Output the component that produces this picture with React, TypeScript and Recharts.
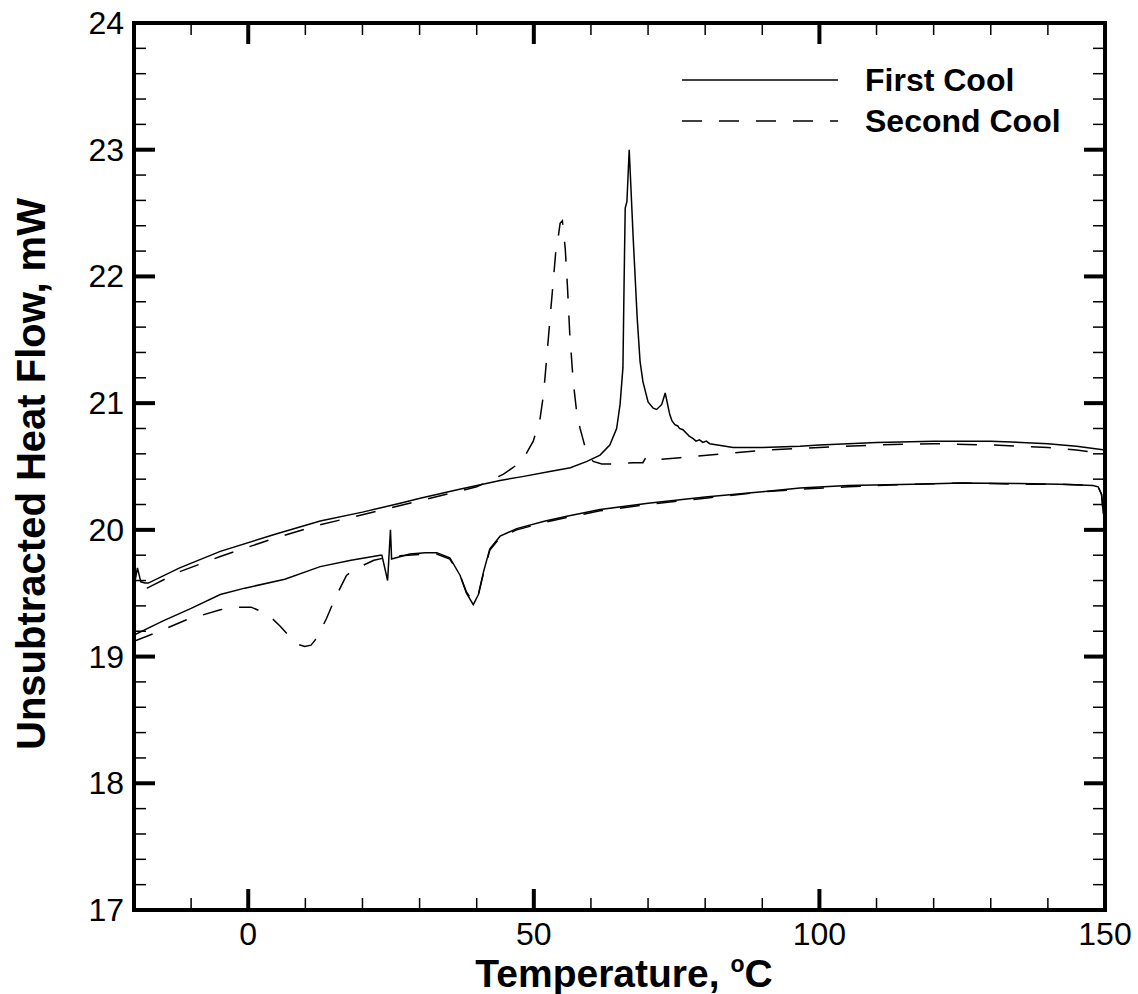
import React from "react";
import { LineChart, Line, XAxis, YAxis, Legend } from "recharts";

// tick positions (minor every 10 °C / 0.2 mW, labels on the majors)
const xTicks = [-20, -10, 0, 10, 20, 30, 40, 50, 60, 70, 80, 90, 100, 110, 120, 130, 140, 150];
const xMajor = [0, 50, 100, 150];
const yTicks = [
  17, 17.2, 17.4, 17.6, 17.8, 18, 18.2, 18.4, 18.6, 18.8, 19, 19.2, 19.4, 19.6, 19.8, 20,
  20.2, 20.4, 20.6, 20.8, 21, 21.2, 21.4, 21.6, 21.8, 22, 22.2, 22.4, 22.6, 22.8, 23, 23.2,
  23.4, 23.6, 23.8, 24,
];
const yMajor = [17, 18, 19, 20, 21, 22, 23, 24];

// first run: heating trace (lower), then the cooling trace back down (upper)
const firstHeatTemp = [
  -20, -15, -10, -4.9, -0.6, 6.4, 12.6, 18, 23.1, 23.4, 24.4, 24.9, 25.1, 28.3, 31, 33, 35.3,
  37.1, 38.2, 39.4, 40.3, 41.2, 42.3, 44.1, 47, 52, 56, 61.6, 70, 80, 90, 96.6, 105, 116.4, 125,
  135, 142, 147.9, 148.8, 149.4, 149.7, 150,
];
const firstHeatFlow = [
  19.17, 19.28, 19.38, 19.49, 19.54, 19.61, 19.71, 19.76, 19.8, 19.8, 19.6, 20.0, 19.77, 19.81,
  19.82, 19.82, 19.78, 19.64, 19.5, 19.41, 19.49, 19.67, 19.85, 19.95, 20.01, 20.07, 20.11, 20.16,
  20.21, 20.26, 20.3, 20.33, 20.35, 20.36, 20.37, 20.365, 20.36, 20.35, 20.34, 20.28, 20.13, 20.1,
];
const firstCoolTemp = [
  150, 145, 140, 130, 120, 110, 100, 96.6, 90, 84.9, 80.8, 80.2, 79.6, 79.0, 78.4, 77.9, 77.2,
  76.1, 75.5, 75.2, 74.7, 74.2, 73.8, 73.0, 72.4, 71.5, 70.9, 70.0, 69.1, 68.6, 68.1, 67.4, 66.7,
  66.3, 66.0, 65.8, 65.6, 65.1, 64.5, 63.3, 61.6, 59.3, 56.4, 52.8, 48, 44.1, 37, 30.1, 26.6, 20,
  12.6, 5, -4.9, -12, -17.5, -18.1, -18.8, -19.4, -20,
];
const firstCoolFlow = [
  20.63, 20.66, 20.68, 20.7, 20.7, 20.69, 20.67, 20.66, 20.65, 20.65, 20.68, 20.7, 20.69, 20.71,
  20.7, 20.72, 20.74, 20.79, 20.8, 20.82, 20.83, 20.86, 20.91, 21.08, 20.99, 20.95, 20.96, 21.01,
  21.17, 21.33, 21.67, 22.3, 23.0, 22.59, 22.54, 21.94, 21.28, 20.99, 20.8, 20.67, 20.59, 20.54,
  20.49, 20.46, 20.42, 20.39, 20.32, 20.25, 20.21, 20.14, 20.07, 19.97, 19.83, 19.7, 19.58, 19.58,
  19.59, 19.7, 19.55,
];

// second run
const secondHeatTemp = [
  -20, -15, -10.8, -4.9, -2.0, 0.5, 2.6, 4.2, 5.6, 7.2, 8.5, 9.9, 11.0, 11.7, 12.7, 13.7, 15.2,
  16.3, 17.2, 18.6, 20.1, 22, 25, 28, 31, 33, 35.3, 37.1, 38.2, 39.4, 40.3, 41.2, 42.3, 44.1, 47,
  52, 56, 61.6, 70, 80, 90, 96.6, 105, 116.4, 125, 135, 142, 147.9, 148.8, 149.4, 149.7, 150,
];
const secondHeatFlow = [
  19.12, 19.21, 19.29, 19.37, 19.39, 19.39, 19.35, 19.3, 19.24, 19.16, 19.1, 19.08, 19.09, 19.13,
  19.21, 19.3, 19.46, 19.56, 19.64, 19.69, 19.72, 19.76, 19.79, 19.8, 19.81, 19.81, 19.77, 19.64,
  19.51, 19.43, 19.49, 19.66, 19.84, 19.94, 20.0, 20.06, 20.1, 20.15, 20.2, 20.25, 20.3, 20.32,
  20.34, 20.36, 20.37, 20.36, 20.36, 20.35, 20.34, 20.28, 20.13, 20.1,
];
const secondCoolTemp = [
  150, 145, 140, 130, 120, 110, 100, 90.8, 83.1, 75.6, 70.5, 69.6, 69.1, 67.4, 64, 61.9, 60.4,
  59.3, 58.7, 58.1, 57.5, 56.9, 56.3, 55.9, 55.5, 55.0, 54.6, 54.3, 54.0, 53.4, 52.8, 52.3, 51.7,
  51.1, 49.9, 47.9, 44.7, 40, 30.1, 20, 12.6, 5, -4.9, -12, -17.7, -20,
];
const secondCoolFlow = [
  20.6, 20.63, 20.65, 20.67, 20.68, 20.67, 20.65, 20.63, 20.6, 20.57, 20.55, 20.57, 20.53, 20.53,
  20.52, 20.52, 20.54, 20.6, 20.7, 20.8, 20.93, 21.17, 21.54, 21.91, 22.22, 22.44, 22.42, 22.32,
  22.28, 21.96, 21.65, 21.38, 21.07, 20.88, 20.7, 20.54, 20.44, 20.34, 20.23, 20.12, 20.04, 19.94,
  19.79, 19.67, 19.54, 19.52,
];

const toPoints = (temps: number[], flows: number[]) =>
  temps.map((t, i) => ({ t, hf: flows[i] }));

const firstCool = [...toPoints(firstHeatTemp, firstHeatFlow), ...toPoints(firstCoolTemp, firstCoolFlow)];
const secondCool = [...toPoints(secondHeatTemp, secondHeatFlow), ...toPoints(secondCoolTemp, secondCoolFlow)];

const FONT = "'Liberation Sans', Arial, Helvetica, sans-serif";
const DASH = "20 17";
const axisStyle = { stroke: "#000", strokeWidth: 4, strokeLinecap: "square" as const };

const tickLen = (major: boolean) => (major ? 21 : 12);
const tickW = (major: boolean) => (major ? 4 : 1.5);

const BottomTick = ({ x, y, payload }: any) => {
  const major = xMajor.includes(payload.value);
  return (
    <g>
      <line x1={x} x2={x} y1={y} y2={y - tickLen(major)} stroke="#000" strokeWidth={tickW(major)} />
      {major && (
        <text x={x} y={y + 35} textAnchor="middle" fontSize={32} fontFamily={FONT} fill="#000">
          {payload.value}
        </text>
      )}
    </g>
  );
};

const TopTick = ({ x, y, payload }: any) => {
  const major = xMajor.includes(payload.value);
  return <line x1={x} x2={x} y1={y} y2={y + tickLen(major)} stroke="#000" strokeWidth={tickW(major)} />;
};

const LeftTick = ({ x, y, payload }: any) => {
  const major = yMajor.includes(payload.value);
  return (
    <g>
      <line x1={x} x2={x + tickLen(major)} y1={y} y2={y} stroke="#000" strokeWidth={tickW(major)} />
      {major && (
        <text x={x - 10} y={y + 11} textAnchor="end" fontSize={32} fontFamily={FONT} fill="#000">
          {payload.value}
        </text>
      )}
    </g>
  );
};

const RightTick = ({ x, y, payload }: any) => {
  const major = yMajor.includes(payload.value);
  return <line x1={x} x2={x - tickLen(major)} y1={y} y2={y} stroke="#000" strokeWidth={tickW(major)} />;
};

const XTitle = () => (
  <text x={624} y={987} textAnchor="middle" fontSize={39} fontWeight="bold" fontFamily={FONT} fill="#000">
    Temperature,{" "}
    <tspan fontSize={23} dy={-15}>o</tspan>
    <tspan dy={15}>C</tspan>
  </text>
);

const YTitle = () => (
  <text
    x={45}
    y={474}
    transform="rotate(-90, 45, 474)"
    textAnchor="middle"
    fontSize={40}
    fontWeight="bold"
    fontFamily={FONT}
    fill="#000"
  >
    Unsubtracted Heat Flow, mW
  </text>
);

const dashes: Record<string, string | undefined> = {
  "First Cool": undefined,
  "Second Cool": DASH,
};

const renderLegend = ({ payload }: any) => {
  const items = (payload || []).filter((e: any) => e.value in dashes);
  return (
    <svg width={460} height={100}>
      {items.map((entry: any, i: number) => (
        <g key={entry.value}>
          <line
            x1={0}
            x2={156}
            y1={20 + i * 41}
            y2={20 + i * 41}
            stroke="#000"
            strokeWidth={1.5}
            strokeDasharray={dashes[entry.value]}
          />
          <text x={183} y={31 + i * 41} fontSize={32} fontWeight="bold" fontFamily={FONT} fill="#000">
            {entry.value}
          </text>
        </g>
      ))}
    </svg>
  );
};

export default function App() {
  return (
    <div style={{ position: "absolute", left: 0, top: 0, background: "#fff" }}>
      <LineChart width={1138} height={994} margin={{ top: 22, right: 32, bottom: 83, left: 133 }}>
        <XAxis
          xAxisId="b"
          type="number"
          dataKey="t"
          domain={[-20, 150]}
          ticks={xTicks}
          interval={0}
          allowDataOverflow
          height={1}
          tickSize={0}
          tickMargin={0}
          tickLine={false}
          tick={BottomTick}
          axisLine={axisStyle}
          label={{ content: XTitle }}
        />
        <XAxis
          xAxisId="t"
          orientation="top"
          type="number"
          dataKey="t"
          domain={[-20, 150]}
          ticks={xTicks}
          interval={0}
          allowDataOverflow
          height={1}
          tickSize={0}
          tickMargin={0}
          tickLine={false}
          tick={TopTick}
          axisLine={axisStyle}
        />
        <YAxis
          yAxisId="l"
          type="number"
          domain={[17, 24]}
          ticks={yTicks}
          interval={0}
          allowDataOverflow
          width={1}
          tickSize={0}
          tickMargin={0}
          tickLine={false}
          tick={LeftTick}
          axisLine={axisStyle}
          label={{ content: YTitle }}
        />
        <YAxis
          yAxisId="r"
          orientation="right"
          type="number"
          domain={[17, 24]}
          ticks={yTicks}
          interval={0}
          allowDataOverflow
          width={1}
          tickSize={0}
          tickMargin={0}
          tickLine={false}
          tick={RightTick}
          axisLine={axisStyle}
        />
        <Line
          xAxisId="b"
          yAxisId="l"
          data={firstCool}
          dataKey="hf"
          name="First Cool"
          type="linear"
          stroke="#000"
          strokeWidth={1.5}
          dot={false}
          activeDot={false}
          isAnimationActive={false}
        />
        <Line
          xAxisId="b"
          yAxisId="l"
          data={secondCool}
          dataKey="hf"
          name="Second Cool"
          type="linear"
          stroke="#000"
          strokeWidth={1.5}
          strokeDasharray={DASH}
          dot={false}
          activeDot={false}
          isAnimationActive={false}
        />
        {/* invisible copy so the frame axes (top/right) share the same scales */}
        <Line
          xAxisId="t"
          yAxisId="r"
          data={firstCool}
          dataKey="hf"
          name="frame"
          stroke="none"
          legendType="none"
          dot={false}
          activeDot={false}
          isAnimationActive={false}
        />
        <Legend
          layout="vertical"
          align="center"
          verticalAlign="middle"
          content={renderLegend}
          wrapperStyle={{ position: "absolute", left: 682, top: 60, width: 460, height: 100 }}
        />
      </LineChart>
    </div>
  );
}
